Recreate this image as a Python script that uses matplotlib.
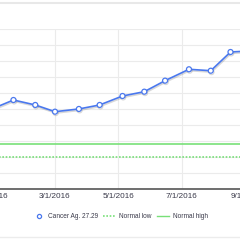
import matplotlib
matplotlib.use("Agg")
import matplotlib.pyplot as plt
import matplotlib.dates as mdates
import matplotlib.patheffects as pe
from matplotlib.lines import Line2D
from matplotlib.ticker import FuncFormatter, MultipleLocator
from datetime import datetime, timedelta

# ---- data ----
dates = ["2016-01-01", "2016-01-21", "2016-02-11", "2016-03-01", "2016-03-24",
         "2016-04-13", "2016-05-05", "2016-05-26", "2016-06-15", "2016-07-08",
         "2016-07-29", "2016-08-17", "2016-09-06"]
values = [50.4, 55.8, 52.7, 48.5, 50.2, 52.7, 58.3, 61.0, 67.9, 75.0, 74.1, 85.8, 86.5]
normal_low = 20.0
normal_high = 28.1
series_label = "Cancer Ag. 27.29"
low_label = "Normal low"
high_label = "Normal high"

blue = "#4a78ee"
green = "#78e078"
text_color = "#3a3a4a"

plt.rcParams['font.family'] = ['Liberation Sans', 'DejaVu Sans']

x = [datetime.strptime(d, "%Y-%m-%d") for d in dates]

fig = plt.figure(figsize=(2.4, 2.4), dpi=100)
fig.patch.set_facecolor("white")

# axes wider than the canvas (the reference is a crop of a wider chart)
px_per_day = 1.0385
day0 = 7.04  # day (from Jan 1) at the left canvas edge
d_left, d_right = -20.0, 270.0
left_frac = (d_left - day0) * px_per_day / 240
right_frac = (d_right - day0) * px_per_day / 240
ax = fig.add_axes([left_frac, 0.2113, right_frac - left_frac, 0.6667])

base = datetime(2016, 1, 1)
ax.set_xlim(base + timedelta(days=d_left), base + timedelta(days=d_right))
ax.set_ylim(0, 100)

ax.axhline(normal_high, color=green, lw=1.2, zorder=2)
ax.axhline(normal_low, color=green, lw=1.2, ls=(0, (1, 1)), zorder=2)

ax.plot(x, values, color=blue, lw=1.2, marker='o', markersize=3.6,
        markerfacecolor='white', markeredgecolor=blue, markeredgewidth=0.9,
        zorder=3,
        path_effects=[pe.SimpleLineShadow(offset=(0.5, -1), shadow_color='gray', alpha=0.3), pe.Normal()])

ax.xaxis.set_major_locator(mdates.MonthLocator(bymonth=[1, 3, 5, 7, 9, 11]))
ax.xaxis.set_major_formatter(FuncFormatter(
    lambda v, p: (lambda d: f"{d.month}/{d.day}/{d.year}")(mdates.num2date(v))))
ax.yaxis.set_major_locator(MultipleLocator(10))
ax.tick_params(axis='x', length=0, pad=2.5, labelsize=5.9, labelcolor=text_color)
ax.tick_params(axis='y', length=0, labelleft=False)
ax.grid(True, color='#ebebeb', lw=0.8, zorder=0)
ax.set_axisbelow(True)
for s in ['top', 'left', 'right']:
    ax.spines[s].set_visible(False)
ax.spines['bottom'].set_color('#555555')
ax.spines['bottom'].set_linewidth(1.2)

handles = [
    Line2D([], [], ls='none', marker='o', markersize=3, markerfacecolor='white',
           markeredgecolor=blue, markeredgewidth=0.9),
    Line2D([], [], color=green, lw=1.2, ls=(0, (1, 1))),
    Line2D([], [], color=green, lw=1.0),
]
fig.legend(handles, [series_label, low_label, high_label], loc='center',
           bbox_to_anchor=(0.5, 0.097), ncol=3, frameon=False, fontsize=4.7,
           handlelength=1.9, handletextpad=0.5, columnspacing=0.8,
           labelcolor=text_color)

fig.add_artist(Line2D([0, 1], [1 - 2.5 / 240, 1 - 2.5 / 240], color='#e8e8e8', lw=1.5,
                      transform=fig.transFigure))
fig.add_artist(Line2D([0, 1], [1 - 237.3 / 240, 1 - 237.3 / 240], color='#ececec', lw=1.0,
                      transform=fig.transFigure))

fig.savefig("out.png", dpi=100, facecolor="white")
